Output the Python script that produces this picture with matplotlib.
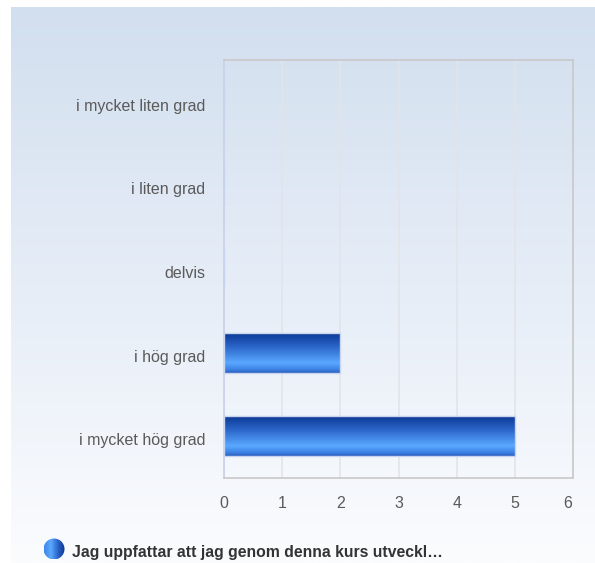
import numpy as np
import matplotlib
matplotlib.use("Agg")
import matplotlib.pyplot as plt
import matplotlib.transforms as mtransforms
from matplotlib.colors import LinearSegmentedColormap
from matplotlib.patches import Circle

categories = ["i mycket liten grad", "i liten grad", "delvis", "i hög grad", "i mycket hög grad"]
values = [0, 0, 0, 2, 5]
xticks = [0, 1, 2, 3, 4, 5, 6]
legend_label = "Jag uppfattar att jag genom denna kurs utveckl…"

plt.rcParams['font.family'] = ['Liberation Sans', 'DejaVu Sans']

W, H = 595, 563
fig = plt.figure(figsize=(W / 100, H / 100), dpi=100)
fig.patch.set_facecolor("white")

# background gradient panel
bg = fig.add_axes([11 / W, 0, 1 - 11 / W, (H - 7) / H], zorder=0)
bgcmap = LinearSegmentedColormap.from_list("bg", ["#d2dfef", "#e6edf7", "#fbfcfe"])
grad = np.linspace(0, 1, 256).reshape(-1, 1)
bg.imshow(grad, aspect="auto", cmap=bgcmap, extent=[0, 1, 0, 1], origin="upper")
bg.set_axis_off()

ax = fig.add_axes([224 / W, (H - 478) / H, (573 - 224) / W, (478 - 60) / H], zorder=1)
ax.patch.set_alpha(0)

y = np.arange(len(categories))
bars = ax.barh(y, values, height=0.48, color="none", edgecolor="#c8d4ee", linewidth=1, zorder=3)

barcmap = LinearSegmentedColormap.from_list(
    "bar", [(0, "#0a3590"), (0.35, "#2a64c8"), (0.75, "#5aa8ff"), (0.9, "#3f86e8"), (1, "#2a5fc0")])
for b in bars:
    if b.get_width() <= 0:
        continue
    x0, y0 = b.get_x(), b.get_y()
    w, h = b.get_width(), b.get_height()
    im = ax.imshow(grad, aspect="auto", cmap=barcmap,
                   extent=[x0, x0 + w, y0 + h, y0], origin="upper", zorder=2)
    im.set_clip_path(b)

ax.set_xlim(0, 6)
ax.set_ylim(len(categories) - 0.5, -0.5)
ax.set_yticks(y)
ax.set_yticklabels(categories)
ax.set_xticks(xticks)
ax.tick_params(length=0, labelsize=11.5, labelcolor="#5a5a5a")
ax.tick_params(axis="y", pad=13.5)
ax.tick_params(axis="x", pad=13)
ax.grid(axis="x", color="#e2e4e8", linewidth=1.2, zorder=1)
ax.set_axisbelow(True)
for s in ax.spines.values():
    s.set_color("#c8c8c8")
    s.set_linewidth(1.2)
ax.spines["left"].set_color("#c8d0ea")

# shift y labels slightly down, last x label slightly left
down = mtransforms.ScaledTranslation(0, -3 / 100, fig.dpi_scale_trans)
for lbl in ax.get_yticklabels():
    lbl.set_transform(lbl.get_transform() + down)
left = mtransforms.ScaledTranslation(-5 / 100, 0, fig.dpi_scale_trans)
xl = ax.get_xticklabels()[-1]
xl.set_transform(xl.get_transform() + left)

# legend
lax = fig.add_axes([0, 0, 1, 1], zorder=2)
lax.set_xlim(0, W)
lax.set_ylim(H, 0)
lax.set_axis_off()
ccmap = LinearSegmentedColormap.from_list("c", ["#0a3590", "#2a64c8", "#5aa8ff", "#3f86e8"])
gradh = np.linspace(0, 1, 256).reshape(1, -1)[:, ::-1]
circ = Circle((54, 549), 10.5, transform=lax.transData, facecolor="none", edgecolor="none")
lax.add_patch(circ)
cim = lax.imshow(gradh, aspect="auto", cmap=ccmap, extent=[43.5, 64.5, 559.5, 538.5], zorder=3)
cim.set_clip_path(circ)
lax.set_xlim(0, W)
lax.set_ylim(H, 0)
lax.text(72, 552, legend_label, fontsize=11.3, fontweight="bold", color="#333333",
         va="center", ha="left")

fig.savefig("out.png", dpi=100)
